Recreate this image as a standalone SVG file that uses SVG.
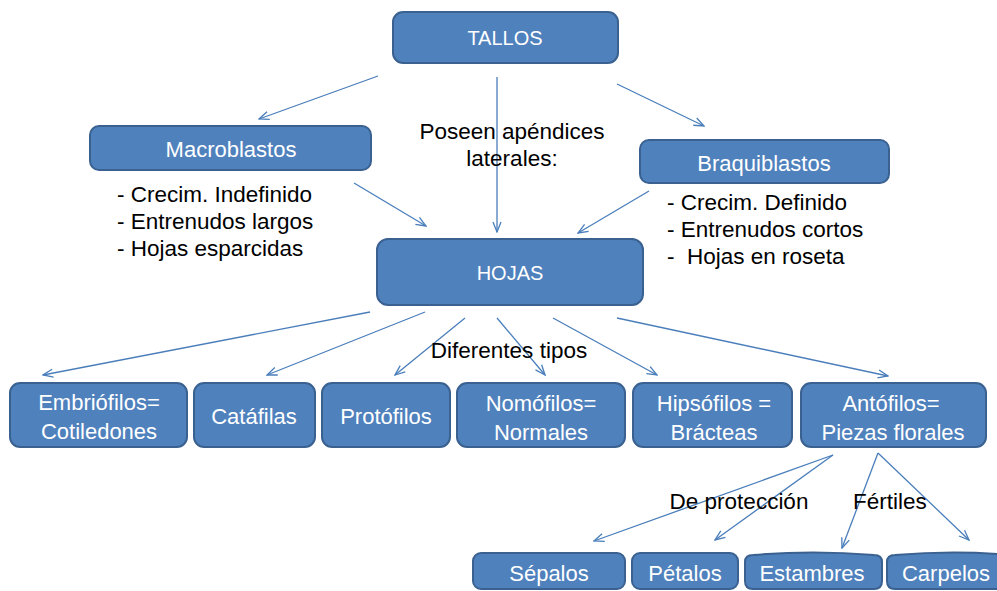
<svg xmlns="http://www.w3.org/2000/svg" width="997" height="591" viewBox="0 0 997 591">
<style>
.box{fill:#4f81bd;stroke:#3a6190;stroke-width:2}
.bt{font-family:"Liberation Sans",Arial,sans-serif;font-size:22px;fill:#ffffff;text-anchor:middle;dominant-baseline:central}
.tx{font-family:"Liberation Sans",Arial,sans-serif;font-size:22.5px;fill:#000000;white-space:pre}
.ln{stroke:#4a7ebb;stroke-width:1.3;fill:none;marker-end:url(#arr)}
</style>
<defs>
<marker id="arr" viewBox="0 0 12 10" refX="11" refY="5" markerWidth="12" markerHeight="10" markerUnits="userSpaceOnUse" orient="auto">
<path d="M1,1 L11,5 L1,9" fill="none" stroke="#4a7ebb" stroke-width="1.3"/>
</marker>
</defs>
<g id="connectors">
<line class="ln" x1="378" y1="76" x2="259" y2="119"/>
<line class="ln" x1="497" y1="77" x2="497" y2="232"/>
<line class="ln" x1="617" y1="84" x2="704" y2="126"/>
<line class="ln" x1="354" y1="183" x2="426" y2="226"/>
<line class="ln" x1="649" y1="191" x2="578" y2="233"/>
<line class="ln" x1="370" y1="312" x2="43" y2="375"/>
<line class="ln" x1="425" y1="312" x2="267" y2="375"/>
<line class="ln" x1="465" y1="318" x2="395" y2="375"/>
<line class="ln" x1="497" y1="318" x2="545" y2="375"/>
<line class="ln" x1="553" y1="318" x2="657" y2="375"/>
<line class="ln" x1="617" y1="318" x2="888" y2="376"/>
<line class="ln" x1="833" y1="455" x2="594" y2="541"/>
<line class="ln" x1="833" y1="455" x2="715" y2="540"/>
<line class="ln" x1="878" y1="453" x2="842" y2="548"/>
<line class="ln" x1="878" y1="453" x2="969" y2="540"/>
</g>
<g id="tallos"><rect class="box" x="393" y="12" width="225" height="51" rx="10"/><text class="bt" x="505" y="38" style="font-size:20px">TALLOS</text></g>
<g id="macroblastos"><rect class="box" x="90" y="126" width="281" height="44" rx="9"/><text class="bt" x="231" y="149">Macroblastos</text></g>
<g id="braquiblastos"><rect class="box" x="640" y="140" width="249" height="43" rx="9"/><text class="bt" x="764" y="163">Braquiblastos</text></g>
<g id="hojas"><rect class="box" x="377" y="239" width="266" height="66" rx="11"/><text class="bt" x="510" y="273" style="font-size:20px">HOJAS</text></g>
<g id="macro-notes">
<text class="tx" x="117" y="202">- Crecim. Indefinido</text>
<text class="tx" x="117" y="229">- Entrenudos largos</text>
<text class="tx" x="117" y="256">- Hojas esparcidas</text>
</g>
<g id="braqui-notes">
<text class="tx" x="667" y="210">- Crecim. Definido</text>
<text class="tx" x="667" y="237">- Entrenudos cortos</text>
<text class="tx" x="667" y="264" xml:space="preserve">-  Hojas en roseta</text>
</g>
<g id="label-poseen">
<text class="tx" x="512" y="139" text-anchor="middle">Poseen apéndices</text>
<text class="tx" x="512" y="166" text-anchor="middle">laterales:</text>
</g>
<g id="label-tipos"><text class="tx" x="509" y="358" text-anchor="middle">Diferentes tipos</text></g>
<g id="embriofilos"><rect class="box" x="10" y="383" width="177" height="64" rx="10"/><text class="bt" x="99" y="402">Embriófilos=</text><text class="bt" x="99" y="431">Cotiledones</text></g>
<g id="catafilas"><rect class="box" x="194" y="383" width="121" height="64" rx="10"/><text class="bt" x="254" y="416">Catáfilas</text></g>
<g id="protofilos"><rect class="box" x="322" y="383" width="128" height="64" rx="10"/><text class="bt" x="386" y="416">Protófilos</text></g>
<g id="nomofilos"><rect class="box" x="457" y="383" width="168" height="64" rx="10"/><text class="bt" x="541" y="403">Nomófilos=</text><text class="bt" x="541" y="432">Normales</text></g>
<g id="hipsofilos"><rect class="box" x="633" y="383" width="159" height="64" rx="10"/><text class="bt" x="714" y="403">Hipsófilos =</text><text class="bt" x="714" y="432">Brácteas</text></g>
<g id="antofilos"><rect class="box" x="801" y="383" width="185" height="64" rx="10"/><text class="bt" x="891" y="403">Antófilos=</text><text class="bt" x="893" y="432">Piezas florales</text></g>
<g id="label-proteccion"><text class="tx" x="739" y="509" text-anchor="middle">De protección</text></g>
<g id="label-fertiles"><text class="tx" x="890" y="509" text-anchor="middle">Fértiles</text></g>
<g id="sepalos"><rect class="box" x="473" y="553" width="152" height="36" rx="8"/><text class="bt" x="549" y="573">Sépalos</text></g>
<g id="petalos"><rect class="box" x="632" y="553" width="106" height="36" rx="8"/><text class="bt" x="685" y="573">Pétalos</text></g>
<g id="estambres"><path class="box" d="M745,581 L745,562 Q745,555 753,555 Q813,550 874,555 Q882,555 882,562 L882,581 Q882,589 874,589 L753,589 Q745,589 745,581 Z"/><text class="bt" x="812" y="573">Estambres</text></g>
<g id="carpelos"><path class="box" d="M887,581 L887,562 Q887,555 895,555 Q955,550 1010,555 L1010,589 L895,589 Q887,589 887,581 Z"/><text class="bt" x="946" y="573">Carpelos</text></g>
</svg>
